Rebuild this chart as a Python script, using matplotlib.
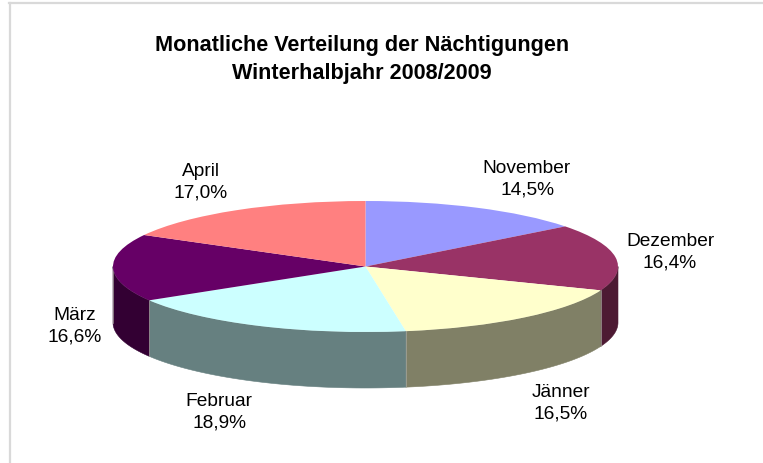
import numpy as np
import matplotlib
matplotlib.use("Agg")
import matplotlib.pyplot as plt
from matplotlib.lines import Line2D

plt.rcParams['font.family'] = ['Liberation Sans', 'DejaVu Sans']

months = ["November", "Dezember", "Jänner", "Februar", "März", "April"]
shares = [14.5, 16.4, 16.5, 18.9, 16.6, 17.0]
colors = ["#9999FF", "#993366", "#FFFFCC", "#CCFFFF", "#660066", "#FF8080"]
title_lines = ["Monatliche Verteilung der Nächtigungen", "Winterhalbjahr 2008/2009"]

W, H = 763, 464
# pie geometry in pixels of the reference
CX, CY, RX, RY, DEPTH = 365.5, 267.5, 252.5, 65.5, 56

# label centres in pixels
label_pos = [(527, 179), (670, 252), (561, 403), (219, 412), (75, 326), (201, 182)]

fig = plt.figure(figsize=(W / 100, H / 100), dpi=100)

# full figure axes, one data unit = pie radius, so the circle comes out flat
ax = fig.add_axes([0, 0, 1, 1])
wedges, _ = ax.pie(shares, colors=colors, startangle=90, counterclock=False, radius=1,
                   wedgeprops=dict(linewidth=0.4, zorder=3))
ax.set_aspect('auto')
ax.set_xlim((0 - CX) / RX, (W - CX) / RX)
ax.set_ylim((CY - H) / RY, CY / RY)
ax.axis('off')

# side wall: only the front half of the rim is visible
d = DEPTH / RY
for w, col in zip(wedges, colors):
    t1, t2 = w.theta1 % 360, w.theta2 % 360
    if t2 < t1:
        t2 += 360
    for lo, hi in [(t1, t2), (t1 - 360, t2 - 360)]:
        a, b = max(lo, 180), min(hi, 360)
        if a >= b:
            continue
        th = np.radians(np.linspace(a, b, 80))
        x = np.cos(th)
        y = np.sin(th)
        dark = tuple(c * 0.5 for c in matplotlib.colors.to_rgb(col))
        ax.fill(np.r_[x, x[::-1]], np.r_[y, y[::-1] - d], color=dark, lw=0.4, zorder=2)
        # thin light seam between the front walls
        ax.plot([x[0], x[0]], [y[0], y[0] - d], color="#a8a8a0", lw=0.5, zorder=2.5)

for name, v, (px, py) in zip(months, shares, label_pos):
    fig.text(px / W, 1 - py / H, f"{name}\n{v:.1f}%".replace(".", ","), ha='center', va='center',
             fontsize=13.8, linespacing=1.36, color='black')

fig.text(362 / W, 1 - 45.5 / H, title_lines[0], ha='center', va='center', fontsize=15.55, fontweight='bold')
fig.text(362 / W, 1 - 74 / H, title_lines[1], ha='center', va='center', fontsize=15.55, fontweight='bold')

# chart area frame, only top and left edges are inside the crop
fig.add_artist(Line2D([10 / W, 10 / W], [0, 1 - 4 / H], color="#d9d9d9", lw=1.6))
fig.add_artist(Line2D([9 / W, 1], [1 - 4 / H, 1 - 4 / H], color="#d9d9d9", lw=1.6))

fig.savefig("out.png", dpi=100)
